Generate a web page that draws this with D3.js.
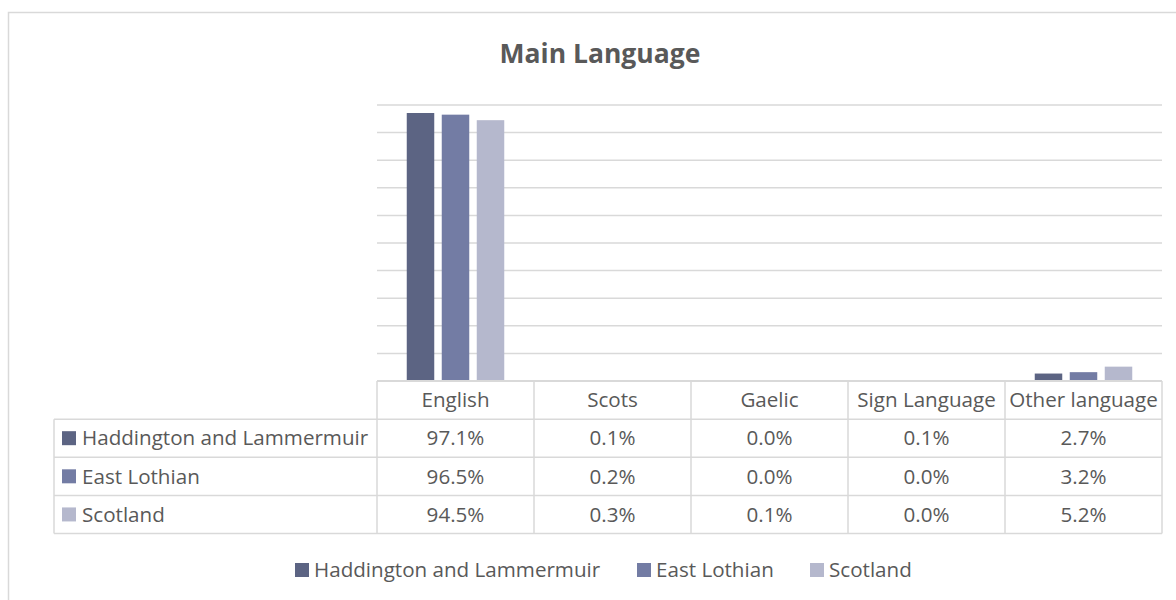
<!DOCTYPE html>
<html>
<head>
<meta charset="utf-8">
<script src="https://cdn.jsdelivr.net/npm/d3@7"></script>
<style>
  html, body { margin: 0; padding: 0; background: #fff; }
  svg { display: block; font-family: "Open Sans", "Liberation Sans", sans-serif; }
</style>
</head>
<body>
<div class="d3container"></div>
<script>
// data
const categories = ["English", "Scots", "Gaelic", "Sign Language", "Other language"];
const seriesNames = ["Haddington and Lammermuir", "East Lothian", "Scotland"];
const haddington = [97.1, 0.1, 0.0, 0.1, 2.7];
const eastLothian = [96.5, 0.2, 0.0, 0.0, 3.2];
const scotland = [94.5, 0.3, 0.1, 0.0, 5.2];
const colors = ["#5c6483", "#737ca4", "#b5b8cd"];
const yTicks = d3.range(0, 101, 10);

const seriesValues = [haddington, eastLothian, scotland];

const width = 1176;
const height = 600;
const plot = { left: 377, right: 1162, top: 105, bottom: 381 };
const tableLeft = 54;
const gridColor = "#d9d9d9";
const textColor = "#595959";
const fontSize = 20.6;

const svg = d3.select(".d3container")
  .append("svg")
  .attr("width", width)
  .attr("height", height);

// chart border
svg.append("rect")
  .attr("x", 8.5).attr("y", 12.5)
  .attr("width", width + 20).attr("height", height + 20)
  .attr("fill", "none")
  .attr("stroke", gridColor)
  .attr("stroke-width", 1.5);

// title
svg.append("text")
  .attr("x", 600).attr("y", 63)
  .attr("text-anchor", "middle")
  .attr("font-size", 26.5)
  .attr("font-weight", "bold")
  .attr("fill", textColor)
  .text("Main Language");

// scales
const x = d3.scaleBand()
  .domain(categories)
  .range([plot.left, plot.right])
  .padding(0);

const groupW = 97.5;
const xInner = d3.scaleBand()
  .domain(seriesNames)
  .range([(x.bandwidth() - groupW) / 2, (x.bandwidth() + groupW) / 2])
  .paddingInner(7.5 / 35);

const y = d3.scaleLinear()
  .domain([0, 100])
  .range([plot.bottom, plot.top]);

// gridlines
svg.append("g")
  .selectAll("line")
  .data(yTicks)
  .join("line")
    .attr("x1", plot.left).attr("x2", plot.right)
    .attr("y1", d => y(d)).attr("y2", d => y(d))
    .attr("stroke", gridColor)
    .attr("stroke-width", 1.5);

// bars
const groups = svg.append("g")
  .selectAll("g")
  .data(categories)
  .join("g")
    .attr("transform", d => `translate(${x(d)},0)`);

groups.selectAll("rect")
  .data((c, i) => seriesNames.map((s, j) => ({ s, j, v: seriesValues[j][i] })))
  .join("rect")
    .attr("x", d => xInner(d.s))
    .attr("width", xInner.bandwidth())
    .attr("y", d => y(d.v))
    .attr("height", d => y(0) - y(d.v))
    .attr("fill", d => colors[d.j]);

// axis line over the bar bases
svg.append("line")
  .attr("x1", plot.left).attr("x2", plot.right)
  .attr("y1", y(0)).attr("y2", y(0))
  .attr("stroke", gridColor)
  .attr("stroke-width", 2);

// data table
const rows = d3.scaleBand()
  .domain(["header"].concat(seriesNames))
  .range([plot.bottom, 533.5]);

const table = svg.append("g");

// horizontal lines
const hLines = rows.domain().slice(1).map(r => rows(r)).concat([rows.range()[1]]);
table.selectAll(".hline")
  .data(hLines)
  .join("line")
    .attr("x1", tableLeft).attr("x2", plot.right)
    .attr("y1", d => d).attr("y2", d => d)
    .attr("stroke", gridColor).attr("stroke-width", 1.5);

// vertical lines
const vLines = categories.map(c => x(c)).concat([plot.right]);
table.selectAll(".vline")
  .data(vLines)
  .join("line")
    .attr("x1", d => d).attr("x2", d => d)
    .attr("y1", plot.bottom).attr("y2", rows.range()[1])
    .attr("stroke", gridColor).attr("stroke-width", 1.5);

table.append("line")
  .attr("x1", tableLeft).attr("x2", tableLeft)
  .attr("y1", rows(seriesNames[0])).attr("y2", rows.range()[1])
  .attr("stroke", gridColor).attr("stroke-width", 1.5);

// header labels
table.selectAll(".cat")
  .data(categories)
  .join("text")
    .attr("x", d => x(d) + x.bandwidth() / 2)
    .attr("y", rows("header") + rows.bandwidth() / 2)
    .attr("dy", "0.35em")
    .attr("text-anchor", "middle")
    .attr("font-size", fontSize)
    .attr("fill", textColor)
    .text(d => d);

// row labels with keys
const rowG = table.selectAll(".row")
  .data(seriesNames)
  .join("g")
    .attr("transform", d => `translate(0,${rows(d) + rows.bandwidth() / 2})`);

rowG.append("rect")
  .attr("x", 62).attr("y", -7)
  .attr("width", 14).attr("height", 14)
  .attr("fill", (d, i) => colors[i]);

rowG.append("text")
  .attr("x", 82)
  .attr("dy", "0.35em")
  .attr("font-size", fontSize)
  .attr("fill", textColor)
  .text(d => d);

rowG.selectAll(".val")
  .data((d, i) => seriesValues[i].map((v, k) => ({ v, c: categories[k] })))
  .join("text")
    .attr("x", d => x(d.c) + x.bandwidth() / 2)
    .attr("dy", "0.35em")
    .attr("text-anchor", "middle")
    .attr("font-size", fontSize)
    .attr("fill", textColor)
    .text(d => d3.format(".1f")(d.v) + "%");

// legend
const legendX = [295, 637, 810];
const legend = svg.append("g")
  .selectAll("g")
  .data(seriesNames)
  .join("g")
    .attr("transform", (d, i) => `translate(${legendX[i]},570)`);

legend.append("rect")
  .attr("x", 0).attr("y", -7)
  .attr("width", 14).attr("height", 14)
  .attr("fill", (d, i) => colors[i]);

legend.append("text")
  .attr("x", 19)
  .attr("dy", "0.35em")
  .attr("font-size", fontSize)
  .attr("fill", textColor)
  .text(d => d);
</script>
</body>
</html>
